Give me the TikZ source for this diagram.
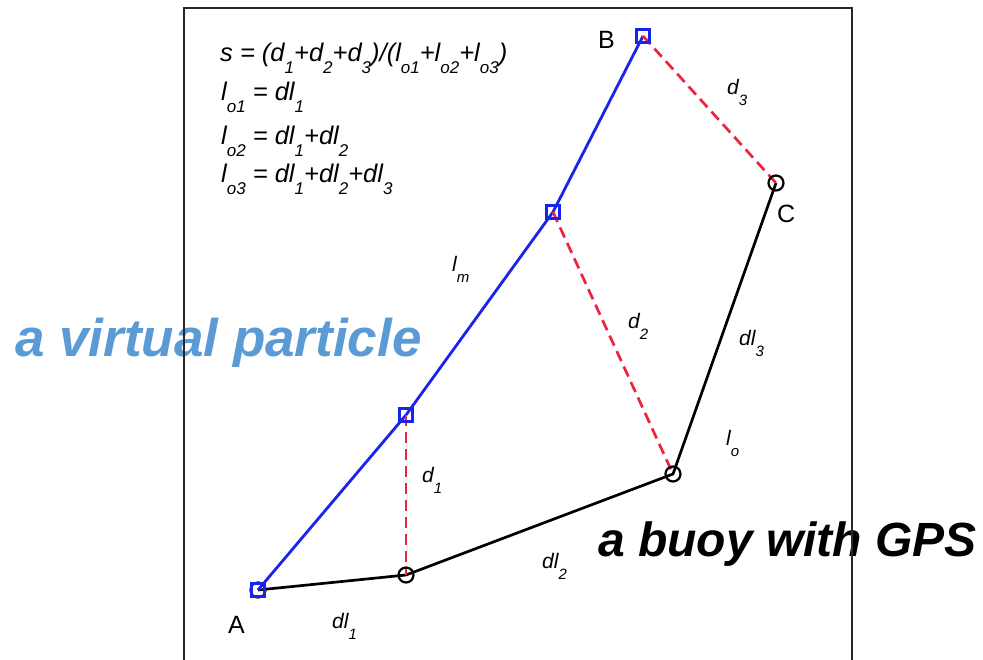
\documentclass[tikz,border=0pt]{standalone}
\usepackage{fontspec}
\setmainfont{Liberation Sans}
\definecolor{vblue}{RGB}{91,155,213}
\definecolor{lblue}{RGB}{25,35,235}
\definecolor{dred}{RGB}{238,35,60}
\definecolor{framec}{RGB}{40,40,40}
\newcommand{\fsub}[1]{\raisebox{-12pt}{\fontsize{17}{17}\selectfont #1}}
\newcommand{\lsub}[1]{\raisebox{-11pt}{\fontsize{15}{15}\selectfont #1}}
\tikzset{
  vpart/.style={draw=lblue, line width=2.4pt, rectangle, minimum size=13pt, inner sep=0pt},
  buoy/.style={draw=black, line width=2.2pt, circle, minimum size=15pt, inner sep=0pt},
  blueline/.style={draw=lblue, line width=2.8pt},
  blackline/.style={draw=black, line width=2.7pt},
  redline/.style={draw=dred, line width=2.7pt, dash pattern=on 11pt off 6pt},
  formula/.style={anchor=base west, inner sep=0pt, font=\fontsize{25.5}{30}\selectfont\itshape},
  lab/.style={anchor=base west, inner sep=0pt, font=\fontsize{21}{24}\selectfont\itshape},
  ptlab/.style={anchor=base west, inner sep=0pt, font=\fontsize{25}{28}\selectfont},
  bigtext/.style={anchor=base west, inner sep=0pt, font=\bfseries\itshape}
}
\begin{document}
\begin{tikzpicture}[x=1pt,y=-1pt]
\useasboundingbox (0,0) rectangle (983,660);
\fill[white] (0,0) rectangle (983,660);
% points
\coordinate (A) at (258,590);
\coordinate (P1) at (406,575);
\coordinate (P2) at (673,474);
\coordinate (C) at (776,183);
\coordinate (V1) at (406,415);
\coordinate (V2) at (553,212);
\coordinate (B) at (643,36);
% lines
\draw[blackline] (A) -- (P1) -- (P2) -- (C);
\draw[blueline] (A) -- (V1) -- (V2) -- (B);
\draw[redline] (V1) -- (P1);
\draw[redline] (V2) -- (P2);
\draw[redline] (B) -- (C);
% markers
\node[buoy] (mA) at (A) {};
\node[vpart] (sA) at (A) {};
\node[buoy] (mP1) at (P1) {};
\node[buoy] (mP2) at (P2) {};
\node[buoy] (mC) at (C) {};
\node[vpart] (sV1) at (V1) {};
\node[vpart] (sV2) at (V2) {};
\node[vpart] (sB) at (B) {};
% formulas
\node[formula] (f1) at (220,62) {s = (d\fsub{1}+d\fsub{2}+d\fsub{3})/(l\fsub{o1}+l\fsub{o2}+l\fsub{o3})};
\node[formula] (f2) at (221,101) {l\fsub{o1} = dl\fsub{1}};
\node[formula] (f3) at (221,145) {l\fsub{o2} = dl\fsub{1}+dl\fsub{2}};
\node[formula] (f4) at (221,183) {l\fsub{o3} = dl\fsub{1}+dl\fsub{2}+dl\fsub{3}};
% labels
\node[ptlab] (tA) at (228,633) {A};
\node[ptlab] (tB) at (598,49) {B};
\node[ptlab] (tC) at (777,223) {C};
\node[lab] (td1) at (422,482) {d\lsub{1}};
\node[lab] (td2) at (628,329) {d\lsub{2}};
\node[lab] (td3) at (727,95) {d\lsub{3}};
\node[lab] (tlm) at (452,272) {l\lsub{m}};
\node[lab] (tlo) at (726,445) {l\lsub{o}};
\node[lab] (tdl1) at (332,628) {dl\lsub{1}};
\node[lab] (tdl2) at (542,568) {dl\lsub{2}};
\node[lab] (tdl3) at (739,345) {dl\lsub{3}};
% big captions
\node[bigtext, text=vblue, font=\fontsize{53}{58}\selectfont\bfseries\itshape] (cap1) at (15,356) {a virtual particle};
\node[bigtext, text=black, font=\fontsize{48}{52}\selectfont\bfseries\itshape] (cap2) at (598,556) {a buoy with GPS};
% frame
\draw[framec, line width=1.5pt] (184,660) -- (184,8) -- (852,8) -- (852,660);
\end{tikzpicture}
\end{document}
